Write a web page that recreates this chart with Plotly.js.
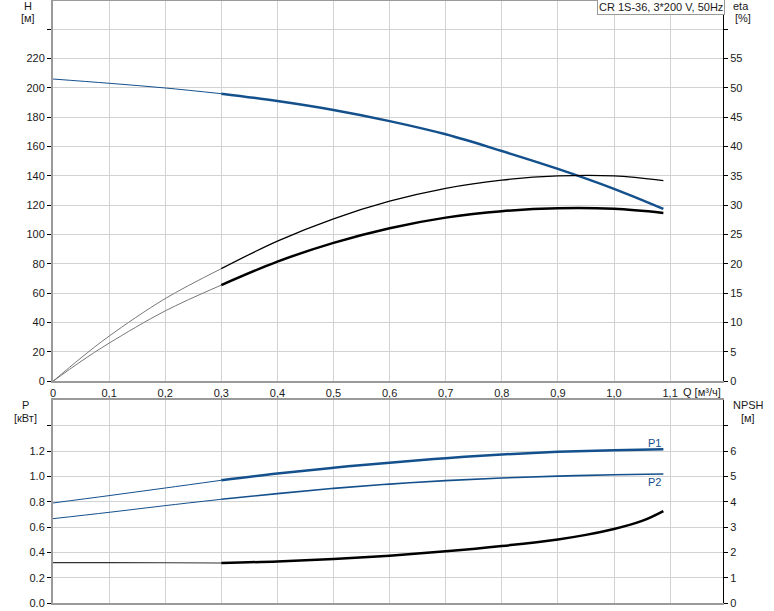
<!DOCTYPE html>
<html>
<head>
<meta charset="utf-8">
<script src="https://cdn.plot.ly/plotly-3.0.1.min.js"></script>
<style>html,body{margin:0;padding:0;background:#fff;}#chart{width:774px;height:611px;}</style>
</head>
<body>
<div id="chart"></div>
<script>
// ---- Data ----
// Flow Q [m3/h]
const qThin = [0, 0.1, 0.2, 0.3];
const qEtaThin = [0, 0.05, 0.1, 0.2, 0.3];
const qMain = [0.3, 0.4, 0.5, 0.6, 0.7, 0.8, 0.9, 1.0, 1.088];
const qNpsh = [0.3, 0.4, 0.5, 0.6, 0.7, 0.8, 0.9, 0.95, 1.0, 1.05, 1.088];

// Head H [m]
const hThin = [206.1, 203.2, 200.0, 196.1];
const hMain = [196.1, 191.1, 185.0, 177.4, 168.4, 157.0, 144.8, 131.2, 117.5];

// Efficiency eta [%]
const eta1Thin = [0, 4.0, 7.7, 14.1, 19.2];
const eta1Main = [19.2, 23.9, 27.7, 30.7, 32.9, 34.3, 35.0, 35.0, 34.2];
const eta2Thin = [0, 3.4, 6.5, 12.0, 16.4];
const eta2Main = [16.4, 20.4, 23.6, 26.1, 27.9, 29.0, 29.5, 29.4, 28.7];

// Power P [kW]
const p1Thin = [0.790, 0.848, 0.908, 0.969];
const p1Main = [0.969, 1.022, 1.068, 1.108, 1.144, 1.173, 1.194, 1.207, 1.214];
const p2Thin = [0.666, 0.716, 0.769, 0.819];
const p2Main = [0.819, 0.864, 0.905, 0.939, 0.966, 0.987, 1.002, 1.013, 1.019];

// NPSH [m]
const npshThin = [1.595, 1.595, 1.590, 1.580];
const npshMain = [1.580, 1.640, 1.740, 1.870, 2.040, 2.250, 2.510, 2.690, 2.920, 3.240, 3.630];

// Tick labels
const xTickVals = [0, 0.1, 0.2, 0.3, 0.4, 0.5, 0.6, 0.7, 0.8, 0.9, 1.0, 1.1];
const xTickText = ['0', '0,1', '0,2', '0,3', '0,4', '0,5', '0,6', '0,7', '0,8', '0,9', '1,0', '1,1'];
const hTickVals = [0, 20, 40, 60, 80, 100, 120, 140, 160, 180, 200, 220, 240];
const hTickText = ['0', '20', '40', '60', '80', '100', '120', '140', '160', '180', '200', '220', ''];
const etaTickVals = [0, 5, 10, 15, 20, 25, 30, 35, 40, 45, 50, 55, 60];
const etaTickText = ['0', '5', '10', '15', '20', '25', '30', '35', '40', '45', '50', '55', ''];
const pTickVals = [0, 0.2, 0.4, 0.6, 0.8, 1.0, 1.2, 1.4];
const pTickText = ['0.0', '0.2', '0.4', '0.6', '0.8', '1.0', '1.2', ''];
const nTickVals = [0, 1, 2, 3, 4, 5, 6, 7];
const nTickText = ['0', '1', '2', '3', '4', '5', '6', ''];

const title = 'CR 1S-36, 3*200 V, 50Hz';

// ---- Styling ----
const BLUE = '#14508c';
const GRID = '#d2d2d2';
const AXIS = '#9a9a9a';

function tr(x, y, xa, ya, color, width) {
  return {x: x, y: y, xaxis: xa, yaxis: ya, mode: 'lines', type: 'scatter',
          line: {color: color, width: width, shape: 'spline', smoothing: 1},
          hoverinfo: 'skip'};
}

const traces = [
  tr(qThin, hThin, 'x', 'y', BLUE, 1),
  tr(qMain, hMain, 'x', 'y', BLUE, 2.5),
  tr(qEtaThin, eta1Thin, 'x', 'y2', '#777', 1),
  tr(qMain, eta1Main, 'x', 'y2', '#000', 1.3),
  tr(qEtaThin, eta2Thin, 'x', 'y2', '#777', 1),
  tr(qMain, eta2Main, 'x', 'y2', '#000', 2.5),
  tr(qThin, p1Thin, 'x2', 'y3', BLUE, 1),
  tr(qMain, p1Main, 'x2', 'y3', BLUE, 2.5),
  tr(qThin, p2Thin, 'x2', 'y3', BLUE, 1),
  tr(qMain, p2Main, 'x2', 'y3', BLUE, 1.6),
  tr(qThin, npshThin, 'x2', 'y4', '#333', 1.2),
  tr(qNpsh, npshMain, 'x2', 'y4', '#000', 2.5)
];

// plot area in pixels: left 53, right 723, top 1, bottom 603
const L = 53, R = 51, T = 1, B = 8, W = 774, H = 611;
const PW = W - L - R, PH = H - T - B;
function px(x) { return (x - L) / PW; }
function py(y) { return (H - B - y) / PH; }

const topBottomPx = 381.3;
const botTopPx = 400;

const font = {family: 'Liberation Sans, Arial, sans-serif', size: 11, color: '#1a1a1a'};

function ann(text, x, y, extra) {
  return Object.assign({text: text, x: px(x), y: py(y), xref: 'paper', yref: 'paper',
    showarrow: false, xanchor: 'center', yanchor: 'middle', font: font}, extra || {});
}

const layout = {
  width: W, height: H,
  margin: {l: L, r: R, t: T, b: B, pad: 0},
  paper_bgcolor: '#fff', plot_bgcolor: '#fff',
  showlegend: false,
  font: font,
  xaxis: {
    domain: [0, 1], anchor: 'y', range: [0, 1.1943],
    tickmode: 'array', tickvals: xTickVals, ticktext: xTickText,
    ticks: '', showgrid: true, gridcolor: GRID, gridwidth: 1,
    showline: true, linecolor: AXIS, linewidth: 2, mirror: true, zeroline: false,
    tickfont: font
  },
  yaxis: {
    domain: [py(topBottomPx), 1], anchor: 'x', range: [0, 259.3],
    tickmode: 'array', tickvals: hTickVals, ticktext: hTickText,
    ticks: 'outside', ticklen: 4, tickcolor: '#000', tickwidth: 1,
    showgrid: true, gridcolor: GRID, gridwidth: 1,
    showline: true, linecolor: AXIS, linewidth: 2, zeroline: false, tickfont: font
  },
  yaxis2: {
    overlaying: 'y', side: 'right', anchor: 'x', range: [0, 64.825],
    tickmode: 'array', tickvals: etaTickVals, ticktext: etaTickText,
    ticks: 'outside', ticklen: 4, tickcolor: '#000', tickwidth: 1,
    showgrid: false, showline: true, linecolor: '#000', linewidth: 1, zeroline: false, tickfont: font
  },
  xaxis2: {
    domain: [0, 1], anchor: 'y3', matches: 'x', range: [0, 1.1943],
    tickmode: 'array', tickvals: xTickVals, showticklabels: false,
    ticks: '', showgrid: true, gridcolor: GRID, gridwidth: 1,
    showline: true, linecolor: AXIS, linewidth: 2, mirror: true, zeroline: false
  },
  yaxis3: {
    domain: [0, py(botTopPx)], anchor: 'x2', range: [0, 1.603],
    tickmode: 'array', tickvals: pTickVals, ticktext: pTickText,
    ticks: 'outside', ticklen: 4, tickcolor: '#000', tickwidth: 1,
    showgrid: true, gridcolor: GRID, gridwidth: 1,
    showline: true, linecolor: AXIS, linewidth: 2, zeroline: false, tickfont: font
  },
  yaxis4: {
    overlaying: 'y3', side: 'right', anchor: 'x2', range: [0, 8.015],
    tickmode: 'array', tickvals: nTickVals, ticktext: nTickText,
    ticks: 'outside', ticklen: 4, tickcolor: '#000', tickwidth: 1,
    showgrid: false, showline: true, linecolor: '#000', linewidth: 1, zeroline: false, tickfont: font
  },
  annotations: [
    ann('H', 28, 6),
    ann('[м]', 28, 18),
    ann('eta', 741, 6),
    ann('[%]', 743, 18),
    ann('Q [м³/ч]', 702, 392),
    ann('P', 25, 405),
    ann('[кВт]', 25, 418),
    ann('NPSH', 748, 405),
    ann('[м]', 748, 418),
    ann('P1', 654, 442.5, {font: Object.assign({}, font, {color: BLUE})}),
    ann('P2', 654, 482, {font: Object.assign({}, font, {color: BLUE})}),
    ann(title, 660.5, 7.5, {bgcolor: '#fff', bordercolor: '#999', borderwidth: 1, borderpad: 1})
  ]
};

Plotly.newPlot('chart', traces, layout, {staticPlot: true, displayModeBar: false});
</script>
</body>
</html>
